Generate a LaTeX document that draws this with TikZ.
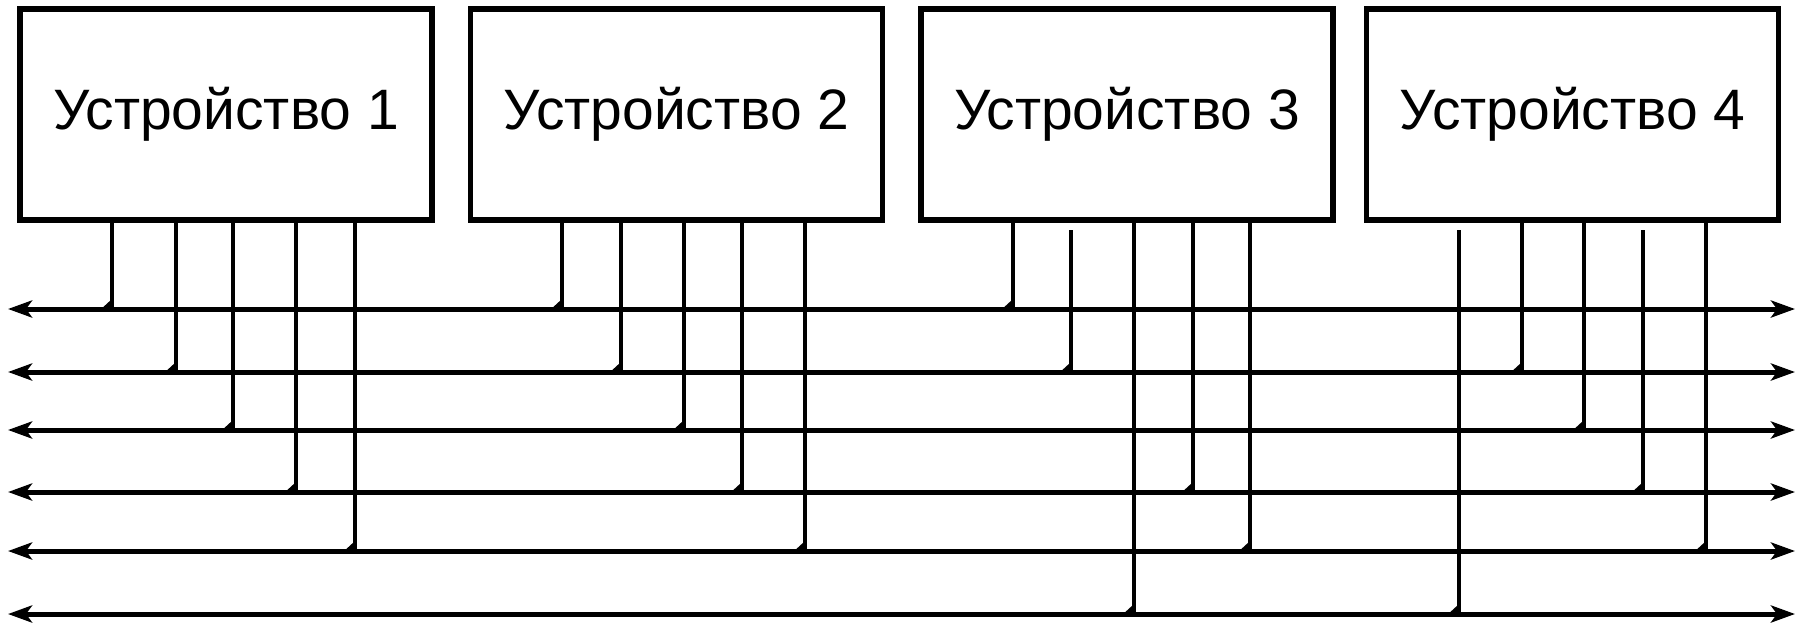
\documentclass[tikz,border=0pt]{standalone}
\usepackage{fontspec}
\setmainfont{Liberation Sans}
\usetikzlibrary{arrows.meta}
\tikzset{
  device/.style={draw, line width=5.5pt, rectangle, inner sep=0pt, outer sep=0pt,
    minimum width=412pt, minimum height=211pt, font=\fontsize{57}{60}\selectfont},
  bus/.style={line width=5pt, {Stealth[length=24pt,width=17pt,inset=6pt]}-{Stealth[length=24pt,width=17pt,inset=6pt]}},
  stub/.style={line width=4.5pt},
  joint/.style={fill=black}
}
\begin{document}
\begin{tikzpicture}[x=1pt,y=-1pt]
\useasboundingbox (0,0) rectangle (1804,625);
\fill[white] (0,0) rectangle (1804,625);
% devices
\node[device] (d1) at (226,114.5) {Устройство 1};
\node[device] (d2) at (676.5,114.5) {Устройство 2};
\node[device] (d3) at (1127,114.5) {Устройство 3};
\node[device] (d4) at (1572.5,114.5) {Устройство 4};
% bus ends
\foreach \i/\y in {1/309,2/372,3/430,4/492,5/551,6/614}{
  \coordinate (L\i) at (8,\y);
  \coordinate (R\i) at (1795,\y);
  \draw[bus] (L\i) -- (R\i);
}
% stubs: name/x/bus/device
\foreach \n/\x/\b/\d in {
  a1/112/1/d1, a2/176/2/d1, a3/233/3/d1, a4/296/4/d1, a5/355/5/d1,
  b1/562/1/d2, b2/621/2/d2, b3/684/3/d2, b4/742/4/d2, b5/805/5/d2,
  c1/1013/1/d3, c3/1134/6/d3, c4/1193/4/d3, c5/1250/5/d3,
  e2/1522/2/d4, e3/1584/3/d4, e5/1706/5/d4}{
  \coordinate (\n) at (\x,0);
  \coordinate (j\n) at (\n |- L\b);
  \draw[stub] (\d.south -| \n) -- (j\n);
  \fill[joint] ([shift={(-13,2)}]j\n) -- ([shift={(0,2)}]j\n) -- ([shift={(0,-10)}]j\n) -- cycle;
}
% stubs that start just below the device box
\foreach \n/\x/\b in {c2/1071/2, e1/1459/6, e4/1643/4}{
  \coordinate (\n) at (\x,230);
  \coordinate (j\n) at (\n |- L\b);
  \draw[stub] (\n) -- (j\n);
  \fill[joint] ([shift={(-13,2)}]j\n) -- ([shift={(0,2)}]j\n) -- ([shift={(0,-10)}]j\n) -- cycle;
}
\end{tikzpicture}
\end{document}
